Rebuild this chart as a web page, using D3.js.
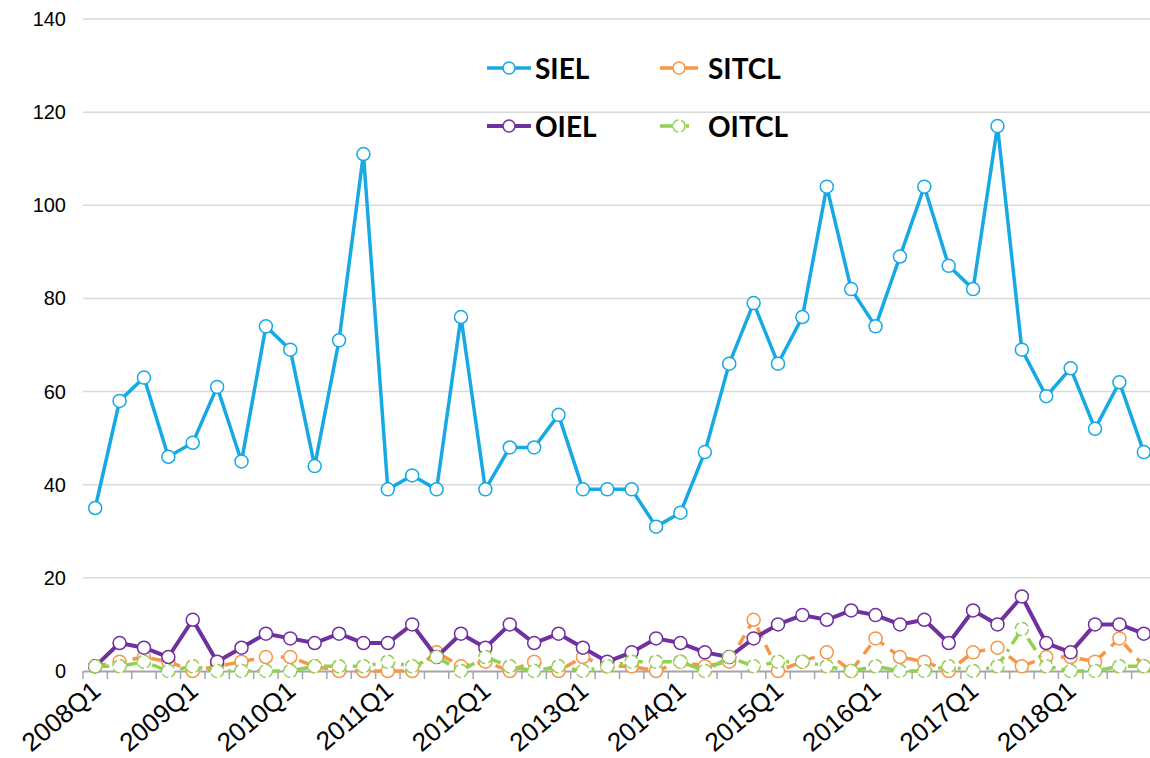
<!DOCTYPE html>
<html>
<head>
<meta charset="utf-8">
<script src="https://cdn.jsdelivr.net/npm/d3@7"></script>
<style>
  html, body { margin: 0; padding: 0; background: #fff; }
  #chart { width: 1150px; height: 758px; }
</style>
</head>
<body>
<div id="chart"></div>
<script>
const years = ['2008', '2009', '2010', '2011', '2012', '2013', '2014', '2015', '2016', '2017', '2018'];
const quarters = years.flatMap(y => ['Q1', 'Q2', 'Q3', 'Q4'].map(q => y + q));
const tickLabels = years.map(y => y + 'Q1');
const yTicks = [0, 20, 40, 60, 80, 100, 120, 140];

const siel = [35, 58, 63, 46, 49, 61, 45, 74, 69, 44, 71, 111,
  39, 42, 39, 76, 39, 48, 48, 55, 39, 39, 39, 31,
  34, 47, 66, 79, 66, 76, 104, 82, 74, 89, 104, 87,
  82, 117, 69, 59, 65, 52, 62, 47];
const sitcl = [1, 2, 3, 2, 0, 1, 2, 3, 3, 1, 0, 0,
  0, 0, 4, 1, 2, 0, 2, 0, 3, 1, 1, 0,
  2, 1, 2, 11, 0, 2, 4, 0, 7, 3, 2, 0,
  4, 5, 1, 3, 3, 2, 7, 1];
const oiel = [1, 6, 5, 3, 11, 2, 5, 8, 7, 6, 8, 6,
  6, 10, 3, 8, 5, 10, 6, 8, 5, 2, 4, 7,
  6, 4, 3, 7, 10, 12, 11, 13, 12, 10, 11, 6,
  13, 10, 16, 6, 4, 10, 10, 8];
const oitcl = [1, 1, 2, 0, 1, 0, 0, 0, 0, 1, 1, 1,
  2, 1, 3, 0, 3, 1, 0, 1, 0, 1, 2, 2,
  2, 0, 3, 1, 2, 2, 1, 0, 1, 0, 0, 1,
  0, 1, 9, 1, 0, 0, 1, 1];

// drawing order follows the legend (SIEL, SITCL, OIEL, OITCL)
const series = [
  { name: 'SIEL', values: siel, color: '#16a9e4', width: 3.5, dash: null, markerDash: null },
  { name: 'SITCL', values: sitcl, color: '#f79646', width: 3.5, dash: '11,8', markerDash: null },
  { name: 'OIEL', values: oiel, color: '#7030a0', width: 4, dash: null, markerDash: null },
  { name: 'OITCL', values: oitcl, color: '#92d050', width: 3.5, dash: '14,6,3,6', markerDash: '7,3' },
];

const width = 1150;
const height = 758;
const margin = { top: 19, right: -6, bottom: 87, left: 83 };

const svg = d3.select('#chart')
  .append('svg')
  .attr('width', width)
  .attr('height', height);

const x = d3.scaleBand()
  .domain(quarters)
  .range([margin.left, width - margin.right]);

const y = d3.scaleLinear()
  .domain([0, 140])
  .range([height - margin.bottom, margin.top]);

const cx = d => x(d) + x.bandwidth() / 2;

// Gridlines
svg.append('g')
  .selectAll('line')
  .data(yTicks.filter(t => t > 0))
  .join('line')
  .attr('x1', margin.left)
  .attr('x2', width - margin.right)
  .attr('y1', d => y(d))
  .attr('y2', d => y(d))
  .attr('stroke', '#d9d9d9')
  .attr('stroke-width', 1.5);

// Y axis labels
svg.append('g')
  .selectAll('text')
  .data(yTicks)
  .join('text')
  .attr('x', 66)
  .attr('y', d => y(d))
  .attr('text-anchor', 'end')
  .attr('dominant-baseline', 'central')
  .attr('font-family', 'Liberation Sans, Arial, sans-serif')
  .attr('font-size', '20px')
  .attr('fill', '#000')
  .text(d => d);

// X axis
const xAxis = svg.append('g')
  .attr('transform', `translate(0,${y(0)})`)
  .call(d3.axisBottom(x).tickSize(0).tickFormat(''));
xAxis.select('.domain').attr('stroke', '#a6a6a6').attr('stroke-width', 2);

svg.append('g')
  .selectAll('line')
  .data(quarters.concat(['end']))
  .join('line')
  .attr('x1', (d, i) => margin.left + i * x.step())
  .attr('x2', (d, i) => margin.left + i * x.step())
  .attr('y1', y(0))
  .attr('y2', y(0) + 8)
  .attr('stroke', '#a6a6a6')
  .attr('stroke-width', 1.5);

svg.append('g')
  .selectAll('text')
  .data(tickLabels)
  .join('text')
  .attr('transform', d => `translate(${cx(d) - 5},${y(0) + 8}) rotate(-40)`)
  .attr('text-anchor', 'end')
  .attr('dy', '0.72em')
  .attr('font-family', 'Liberation Sans, Arial, sans-serif')
  .attr('font-size', '26px')
  .attr('fill', '#000')
  .text(d => d);

// Lines + markers
const line = d3.line()
  .x((d, i) => cx(quarters[i]))
  .y(d => y(d));

for (const s of series) {
  const g = svg.append('g');
  g.append('path')
    .datum(s.values)
    .attr('d', line)
    .attr('fill', 'none')
    .attr('stroke', s.color)
    .attr('stroke-width', s.width)
    .attr('stroke-dasharray', s.dash)
    .attr('stroke-linejoin', 'round');
  g.selectAll('circle')
    .data(s.values)
    .join('circle')
    .attr('cx', (d, i) => cx(quarters[i]))
    .attr('cy', d => y(d))
    .attr('r', 6.5)
    .attr('fill', '#fff')
    .attr('stroke', s.color)
    .attr('stroke-width', 1.5)
    .attr('stroke-dasharray', s.markerDash);
}

// Legend
const legendPos = [
  { x: 487, y: 68 }, { x: 660, y: 68 },
  { x: 487, y: 126 }, { x: 660, y: 126 },
];
const legend = svg.append('g')
  .selectAll('g')
  .data(series)
  .join('g')
  .attr('transform', (d, i) => `translate(${legendPos[i].x},${legendPos[i].y})`);

legend.append('line')
  .attr('x1', 0)
  .attr('x2', d => d.name.includes('TCL') ? 38 : 44)
  .attr('stroke', d => d.color)
  .attr('stroke-width', d => d.width)
  .attr('stroke-dasharray', d => d.name === 'OITCL' ? '17,9,3,9' : null);

legend.append('circle')
  .attr('cx', d => d.name.includes('TCL') ? 19 : 22)
  .attr('r', 6)
  .attr('fill', '#fff')
  .attr('stroke', d => d.color)
  .attr('stroke-width', 1.5)
  .attr('stroke-dasharray', d => d.markerDash);

legend.append('text')
  .attr('x', 48)
  .attr('dominant-baseline', 'central')
  .attr('font-family', 'Lato, sans-serif')
  .attr('font-weight', 'bold')
  .attr('font-size', '28px')
  .attr('fill', '#000')
  .text(d => d.name);
</script>
</body>
</html>
